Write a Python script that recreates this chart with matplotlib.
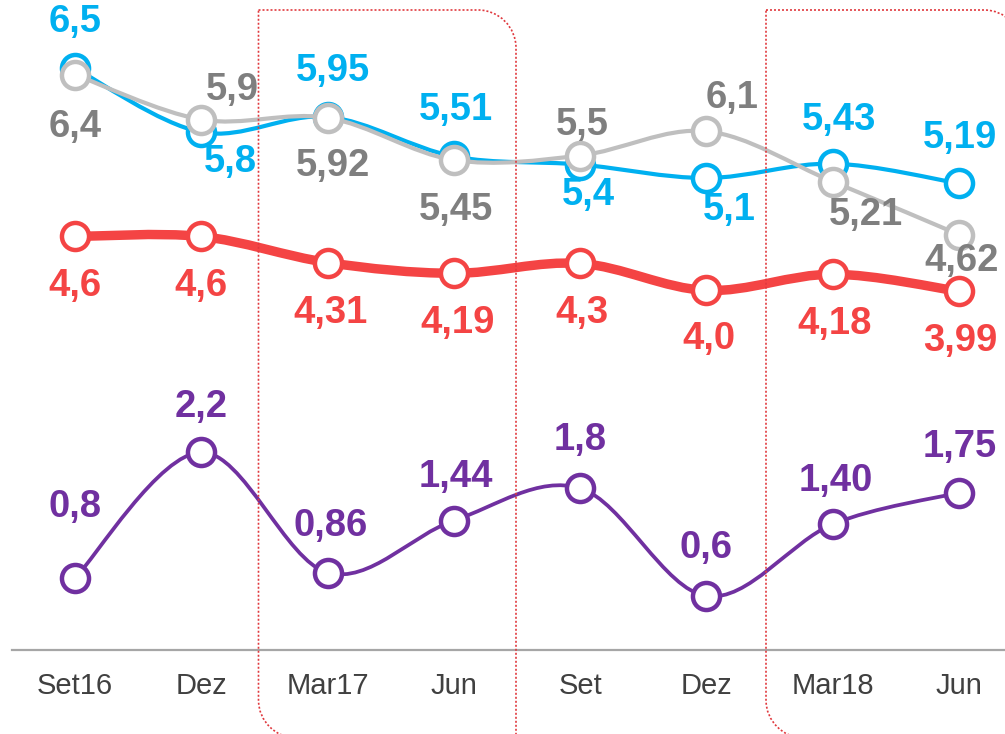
import matplotlib
matplotlib.use("Agg")
import matplotlib.pyplot as plt
from matplotlib.path import Path
from matplotlib.patches import PathPatch
from matplotlib.transforms import Affine2D
import numpy as np

plt.rcParams['font.family'] = ['Liberation Sans', 'DejaVu Sans']

# Data
categories = ['Set16', 'Dez', 'Mar17', 'Jun', 'Set', 'Dez', 'Mar18', 'Jun']

blue_vals = [6.47, 5.76, 5.93, 5.49, 5.4, 5.25, 5.41, 5.19]
blue_labels = ['6,5', '5,8', '5,95', '5,51', '5,4', '5,1', '5,43', '5,19']

gray_vals = [6.4, 5.9, 5.92, 5.45, 5.5, 5.77, 5.21, 4.62]
gray_labels = ['6,4', '5,9', '5,92', '5,45', '5,5', '6,1', '5,21', '4,62']

red_vals = [4.6, 4.6, 4.31, 4.19, 4.3, 4.0, 4.18, 3.99]
red_labels = ['4,6', '4,6', '4,31', '4,19', '4,3', '4,0', '4,18', '3,99']

purple_vals = [0.8, 2.2, 0.86, 1.44, 1.8, 0.6, 1.40, 1.75]
purple_labels = ['0,8', '2,2', '0,86', '1,44', '1,8', '0,6', '1,40', '1,75']

BLUE = '#00B0F0'
GRAY_LINE = '#BFBFBF'
GRAY_TXT = '#7F7F7F'
RED = '#F44444'
PURPLE = '#7030A0'

# label offsets in pixels (dx, dy)
blue_off = [(0, 46), (29, -30), (5, 46), (2, 46), (8, -30), (23, -32), (6, 44), (1, 45)]
gray_off = [(0, -52), (31, 30), (5, -48), (2, -50), (2, 31), (26, 33), (33, -33), (3, -26)]
red_off = [(0, -50), (0, -50), (3, -50), (4, -50), (2, -50), (2, -49), (2, -50), (1, -50)]
purple_off = [(0, 71), (0, 45), (3, 47), (2, 44), (0, 48), (0, 48), (3, 43), (1, 46)]


def smooth_path(xs, ys):
    # Catmull-Rom style bezier like the office "smoothed line"
    pts = np.column_stack([xs, ys]).astype(float)
    n = len(pts)
    verts = [pts[0]]
    codes = [Path.MOVETO]
    for i in range(n - 1):
        p0 = pts[i - 1] if i > 0 else pts[i]
        p1 = pts[i]
        p2 = pts[i + 1]
        p3 = pts[i + 2] if i + 2 < n else pts[i + 1]
        c1 = p1 + (p2 - p0) / 6.0
        c2 = p2 - (p3 - p1) / 6.0
        verts += [c1, c2, p2]
        codes += [Path.CURVE4] * 3
    return Path(verts, codes)


fig = plt.figure(figsize=(10.05, 7.34), dpi=100)
ax = fig.add_axes([0, 0, 1, 1])
ax.set_xlim(-0.594, 7.364)
ax.set_ylim(-0.934, 7.23)
ax.axis('off')

x = np.arange(len(categories))

series = [
    (blue_vals, blue_labels, blue_off, BLUE, BLUE, 3.0),
    (gray_vals, gray_labels, gray_off, GRAY_LINE, GRAY_TXT, 3.0),
    (red_vals, red_labels, red_off, RED, RED, 6.8),
    (purple_vals, purple_labels, purple_off, PURPLE, PURPLE, 2.7),
]

z = 3
for vals, labels, offs, lc, tc, lw in series:
    ax.add_patch(PathPatch(smooth_path(x, vals), fill=False, edgecolor=lc,
                           linewidth=lw, zorder=z, capstyle='round'))
    ax.plot(x, vals, 'o', markersize=19.5, markerfacecolor='white',
            markeredgecolor=lc, markeredgewidth=3.2, zorder=z + 0.5)
    for xi, v, lab, (dx, dy) in zip(x, vals, labels, offs):
        ax.annotate(lab, (xi, v), textcoords='offset pixels', xytext=(dx, dy),
                    ha='center', va='center', fontsize=27.5, fontweight='bold',
                    color=tc, zorder=10)
    z += 1

# baseline and category labels
ax.plot([-0.5, 7.364], [0, 0], color='#A6A6A6', linewidth=1.6, zorder=2)
for xi, cat in zip(x, categories):
    ax.text(xi, -0.40, cat, ha='center', va='center', fontsize=21, color='#404040')


# dotted highlight frames (figure pixel coordinates, y down)
def frame(x0, x1, y0, y1, r):
    k = 0.5523 * r
    verts = [
        (x0, y0), (x1 - r, y0),
        (x1 - r + k, y0), (x1, y0 + r - k), (x1, y0 + r),
        (x1, y1),
        (x0 + r, y1),
        (x0 + r - k, y1), (x0, y1 - r + k), (x0, y1 - r),
        (x0, y0),
    ]
    codes = [Path.MOVETO, Path.LINETO,
             Path.CURVE4, Path.CURVE4, Path.CURVE4,
             Path.LINETO, Path.LINETO,
             Path.CURVE4, Path.CURVE4, Path.CURVE4,
             Path.LINETO]
    # flatten curves so that canvas clipping does not distort them
    poly = Path(verts, codes).to_polygons(closed_only=False)[0]
    tr = Affine2D().scale(1, -1).translate(0, 734)
    fig.patches.append(PathPatch(Path(poly), fill=False, edgecolor='#E0393E',
                                 linewidth=1.2, linestyle=(0, (1.2, 1.2)),
                                 transform=tr, zorder=1))


frame(258.5, 516, 10, 738, 38)
frame(766, 1022, 10, 738, 38)

fig.savefig('out.png', dpi=100)
